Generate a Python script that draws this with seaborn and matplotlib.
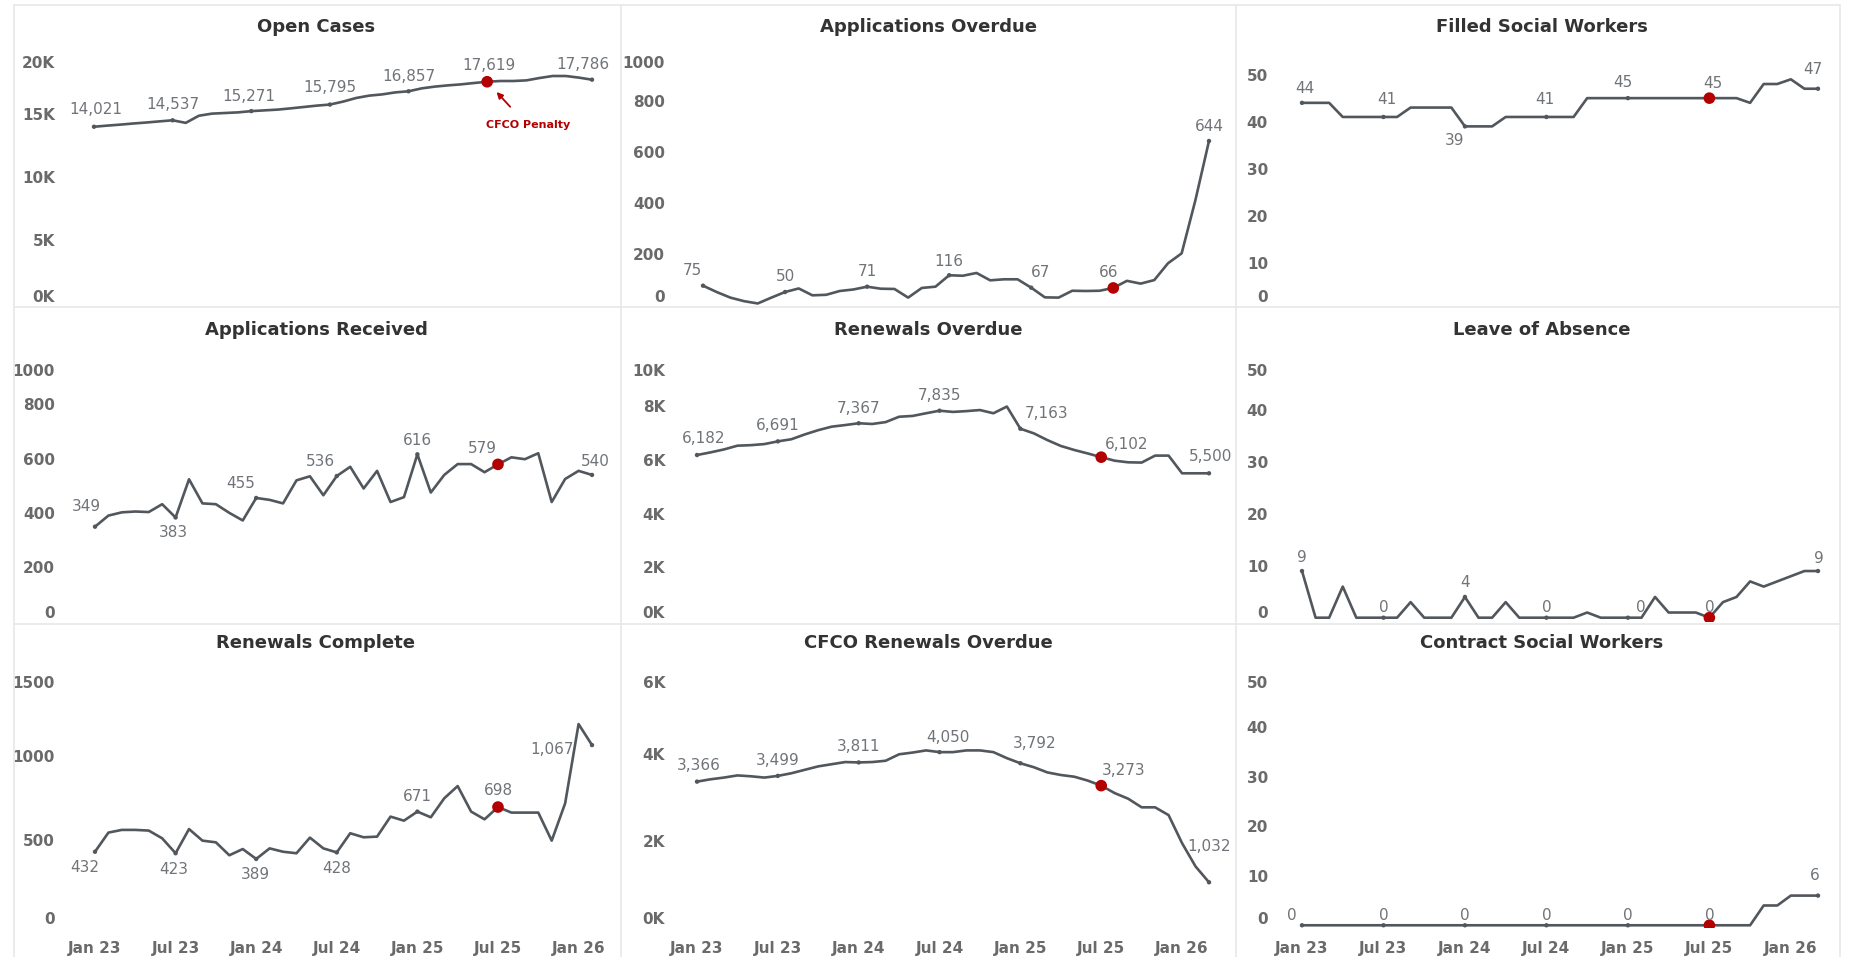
import numpy as np
import pandas as pd
import matplotlib
matplotlib.use("Agg")
import matplotlib.pyplot as plt
import seaborn as sns
from matplotlib.lines import Line2D

# ---------------- data ----------------
x_tick_labels = ["Jan 23", "Jul 23", "Jan 24", "Jul 24", "Jan 25", "Jul 25", "Jan 26"]
x_tick_idx = [0, 6, 12, 18, 24, 30, 36]

open_cases = [14021, 14110, 14190, 14280, 14360, 14450, 14537, 14330, 14900, 15070,
              15120, 15170, 15271, 15330, 15390, 15490, 15600, 15710, 15795, 16030,
              16320, 16510, 16610, 16770, 16857, 17090, 17230, 17330, 17410, 17520,
              17619, 17680, 17680, 17730, 17920, 18080, 18080, 17950, 17786]
apps_overdue = [75, 50, 28, 14, 5, 28, 50, 64, 37, 39, 54, 60, 71, 63, 62, 28, 66, 71,
                116, 114, 125, 96, 100, 100, 67, 29, 28, 55, 54, 55, 66, 94, 83, 97,
                163, 202, 410, 644]
filled_sw = [44, 44, 44, 41, 41, 41, 41, 41, 43, 43, 43, 43, 39, 39, 39, 41, 41, 41, 41,
             41, 41, 45, 45, 45, 45, 45, 45, 45, 45, 45, 45, 45, 45, 44, 48, 48, 49, 47, 47]
apps_received = [349, 390, 402, 405, 403, 432, 383, 524, 435, 432, 400, 372, 455, 448,
                 435, 520, 535, 465, 536, 570, 490, 555, 440, 458, 616, 475, 540, 580,
                 580, 550, 579, 605, 598, 620, 440, 525, 555, 540]
renewals_overdue = [6182, 6280, 6390, 6530, 6550, 6590, 6691, 6770, 6950, 7110, 7240,
                    7300, 7367, 7340, 7410, 7610, 7640, 7740, 7835, 7790, 7820, 7860,
                    7740, 7990, 7163, 6990, 6740, 6520, 6370, 6240, 6102, 5970, 5910,
                    5900, 6160, 6160, 5500, 5500, 5500]
leave_absence = [9, 0, 0, 6, 0, 0, 0, 0, 3, 0, 0, 0, 4, 0, 0, 3, 0, 0, 0, 0, 0, 1, 0, 0,
                 0, 0, 4, 1, 1, 1, 0, 3, 4, 7, 6, 7, 8, 9, 9]
renewals_complete = [432, 546, 562, 562, 558, 512, 423, 567, 498, 488, 411, 448, 389, 452,
                     432, 423, 516, 452, 428, 542, 518, 522, 641, 617, 671, 637, 750, 823,
                     671, 625, 698, 665, 665, 665, 498, 720, 1192, 1067]
cfco_overdue = [3366, 3420, 3460, 3510, 3490, 3460, 3499, 3560, 3640, 3720, 3770, 3820,
                3811, 3820, 3850, 4000, 4040, 4090, 4050, 4050, 4090, 4090, 4050, 3910,
                3792, 3700, 3580, 3520, 3480, 3390, 3273, 3100, 2970, 2770, 2770, 2590,
                1940, 1400, 1032]
contract_sw = [0] * 34 + [4, 4, 6, 6, 6]

titles = ["Open Cases", "Applications Overdue", "Filled Social Workers",
          "Applications Received", "Renewals Overdue", "Leave of Absence",
          "Renewals Complete", "CFCO Renewals Overdue", "Contract Social Workers"]
series = [open_cases, apps_overdue, filled_sw, apps_received, renewals_overdue,
          leave_absence, renewals_complete, cfco_overdue, contract_sw]
ytick_values = [[0, 5000, 10000, 15000, 20000], [0, 200, 400, 600, 800, 1000],
                [0, 10, 20, 30, 40, 50], [0, 200, 400, 600, 800, 1000],
                [0, 2000, 4000, 6000, 8000, 10000], [0, 10, 20, 30, 40, 50],
                [0, 500, 1000, 1500], [0, 2000, 4000, 6000], [0, 10, 20, 30, 40, 50]]
ytick_text = [["0K", "5K", "10K", "15K", "20K"], ["0", "200", "400", "600", "800", "1000"],
              ["0", "10", "20", "30", "40", "50"], ["0", "200", "400", "600", "800", "1000"],
              ["0K", "2K", "4K", "6K", "8K", "10K"], ["0", "10", "20", "30", "40", "50"],
              ["0", "500", "1000", "1500"], ["0K", "2K", "4K", "6K"],
              ["0", "10", "20", "30", "40", "50"]]
penalty_idx = 30

# ---------------- layout / style ----------------
W, H = 1850, 957
LINE = "#51575c"
RED = "#b30000"
LABEL_C = "#707478"
TICK_C = "#6a6a6a"
TITLE_C = "#333333"

col_box = [(62, 612), (672, 1222), (1275, 1835)]
row_box = [(52, 306), (360, 622), (672, 928)]
first_last = [(94, 592), (703, 1209), (1302, 1818),
              (95, 592), (697, 1209), (1302, 1818),
              (95, 592), (697, 1209), (1302, 1818)]
ylims = [(-320, 20000), (-5, 994), (0.85, 54.8),
         (-2.6, 964), (-48, 9727), (-0.83, 49.7),
         (-22, 1502), (-28, 5908), (-0.55, 51.2)]
title_x = [316, 928, 1542]
title_y = [27, 330, 643]
label_offsets = [
    [(2, 17), (0, 16), (-2, 15), (0, 17), (0, 15), (2, 16), (-9, 15)],
    [(-11, 15), (0, 16), (0, 15), (0, 14), (9, 15), (-5, 15), (0, 14)],
    [(3, 14), (3, 17), (-10, -14), (-2, 17), (-5, 16), (4, 15), (-5, 19)],
    [(-9, 20), (-2, -15), (-16, 14), (-16, 15), (0, 14), (-16, 16), (3, 13)],
    [(7, 17), (0, 16), (0, 15), (0, 15), (26, 15), (25, 13), (2, 17)],
    [(0, 14), (0, 10), (0, 14), (0, 10), (13, 10), (0, 10), (1, 13)],
    [(-10, -16), (-2, -16), (-1, -16), (0, -16), (0, 15), (0, 17), (-18, -4)],
    [(2, 16), (0, 15), (0, 16), (8, 15), (14, 20), (22, 15), (0, 36)],
    [(-10, 10), (0, 10), (0, 10), (0, 10), (0, 10), (0, 10), (-3, 20)],
]

sns.set_theme(style="white")
plt.rcParams["font.family"] = ["DejaVu Sans"]

fig = plt.figure(figsize=(W / 100, H / 100), dpi=100)
fig.patch.set_facecolor("white")

for i, (title, vals) in enumerate(zip(titles, series)):
    r, c = divmod(i, 3)
    a0, a1 = col_box[c]
    t0, b0 = row_box[r]
    ax = fig.add_axes([a0 / W, 1 - b0 / H, (a1 - a0) / W, (b0 - t0) / H])
    ax.set_facecolor("white")
    n = len(vals)
    idx = np.arange(n)
    F, L = first_last[i]
    step = (L - F) / (n - 1)
    ax.set_xlim(-(F - a0) / step, (n - 1) + (a1 - L) / step)
    ylo, yhi = ylims[i]
    ax.set_ylim(ylo, yhi)

    df = pd.DataFrame({"m": idx, "v": vals})
    sns.lineplot(data=df, x="m", y="v", ax=ax, color=LINE, linewidth=1.9,
                 estimator=None, zorder=2)
    lab_idx = [0, 6, 12, 18, 24, 30, n - 1]
    sub = df.iloc[lab_idx]
    sns.scatterplot(data=sub, x="m", y="v", ax=ax, color=LINE, s=10,
                    edgecolor="none", zorder=3)
    red = df.iloc[[penalty_idx]]
    sns.scatterplot(data=red, x="m", y="v", ax=ax, color=RED, s=70,
                    edgecolor="none", zorder=4)

    for k, j in enumerate(lab_idx):
        dx, dy = label_offsets[i][k]
        ha = "center"
        if i == 6 and k == 6:
            ha = "right"
        ax.annotate(f"{vals[j]:,}", xy=(j, vals[j]), xytext=(dx, dy),
                    textcoords="offset pixels", ha=ha, va="center",
                    fontsize=11, color=LABEL_C, zorder=5)

    # y ticks: labels pulled inside the plotting range like the reference
    px_per_unit = (b0 - t0) / (yhi - ylo)
    m = 10 / px_per_unit
    pos = [min(max(v, ylo + m), yhi - m) for v in ytick_values[i]]
    ax.set_yticks(pos)
    ax.set_yticklabels(ytick_text[i])
    ax.tick_params(axis="y", length=0, pad=5, labelsize=11, labelcolor=TICK_C)
    for tl in ax.get_yticklabels():
        tl.set_fontweight("bold")

    if r == 2:
        ax.set_xticks(x_tick_idx)
        ax.set_xticklabels(x_tick_labels)
        ax.tick_params(axis="x", length=0, pad=9, labelsize=11, labelcolor=TICK_C)
        for tl in ax.get_xticklabels():
            tl.set_fontweight("bold")
    else:
        ax.set_xticks([])
    ax.set_xlabel("")
    ax.set_ylabel("")
    for s in ax.spines.values():
        s.set_visible(False)

    fig.text(title_x[c] / W, 1 - title_y[r] / H, title, ha="center", va="center",
             fontsize=13, fontweight="bold", color=TITLE_C)

    if i == 0:
        ax.annotate("", xy=(penalty_idx, vals[penalty_idx]), xytext=(23, -25),
                    textcoords="offset pixels",
                    arrowprops=dict(arrowstyle="-|>", color=RED, lw=1.3,
                                    shrinkA=0, shrinkB=10, mutation_scale=9))
        ax.annotate("CFCO Penalty", xy=(penalty_idx, vals[penalty_idx]), xytext=(41, -43),
                    textcoords="offset pixels", ha="center", va="center",
                    fontsize=8, fontweight="bold", color=RED)

# panel separators
SEP = "#e8e8e8"
for y in [5, 307, 624]:
    fig.add_artist(Line2D([14 / W, 1840 / W], [1 - y / H, 1 - y / H],
                          transform=fig.transFigure, color=SEP, lw=1.2))
for x in [14, 621, 1236, 1840]:
    fig.add_artist(Line2D([x / W, x / W], [1 - 5 / H, 0], transform=fig.transFigure,
                          color=SEP, lw=1.2))

fig.savefig("out.png", dpi=100, facecolor="white")
